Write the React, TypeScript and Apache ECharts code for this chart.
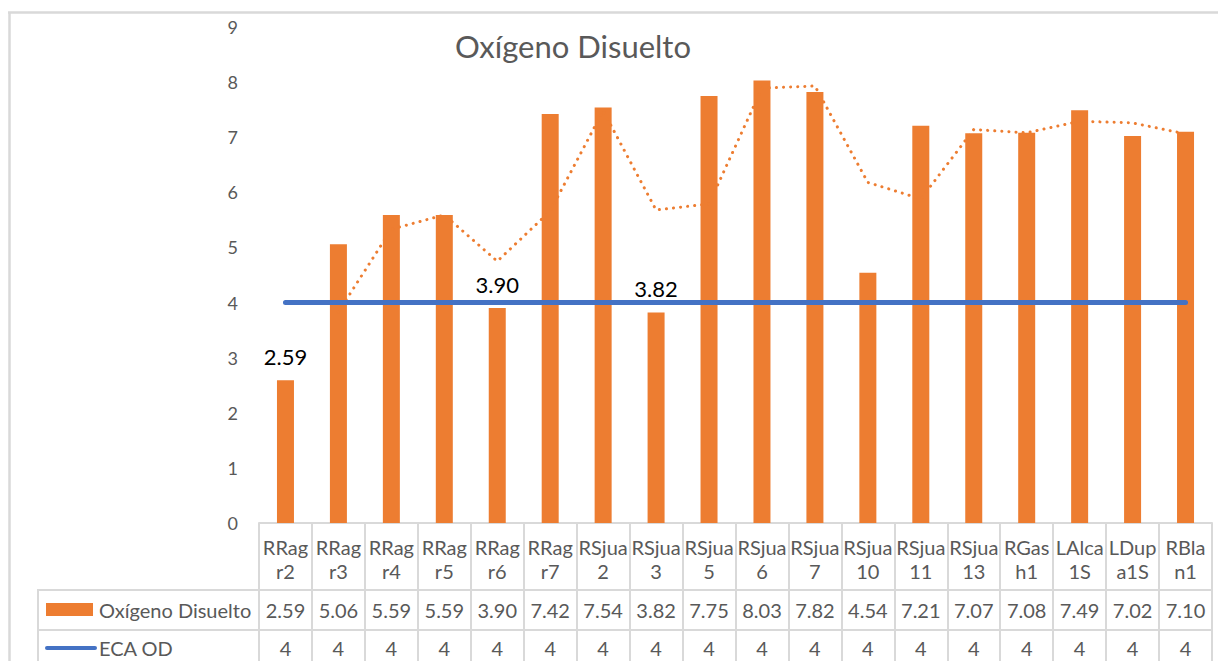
import React, { useEffect, useRef } from "react";
import * as echarts from "echarts";

const categories = [
  "RRagr2", "RRagr3", "RRagr4", "RRagr5", "RRagr6", "RRagr7",
  "RSjua2", "RSjua3", "RSjua5", "RSjua6", "RSjua7", "RSjua10",
  "RSjua11", "RSjua13", "RGash1", "LAlca1S", "LDupa1S", "RBlan1",
];
const categoryLabels = [
  "RRag\nr2", "RRag\nr3", "RRag\nr4", "RRag\nr5", "RRag\nr6", "RRag\nr7",
  "RSjua\n2", "RSjua\n3", "RSjua\n5", "RSjua\n6", "RSjua\n7", "RSjua\n10",
  "RSjua\n11", "RSjua\n13", "RGas\nh1", "LAlca\n1S", "LDup\na1S", "RBla\nn1",
];
const oxygen = [2.59, 5.06, 5.59, 5.59, 3.9, 7.42, 7.54, 3.82, 7.75, 8.03, 7.82, 4.54, 7.21, 7.07, 7.08, 7.49, 7.02, 7.1];
const ecaOD = [4, 4, 4, 4, 4, 4, 4, 4, 4, 4, 4, 4, 4, 4, 4, 4, 4, 4];
// dotted trend line
const trend = [null, 3.83, 5.33, 5.59, 4.75, 5.66, 7.48, 5.68, 5.79, 7.89, 7.93, 6.18, 5.88, 7.14, 7.08, 7.29, 7.26, 7.06];
const yTicks = { min: 0, max: 9, interval: 1 };

const ORANGE = "#ED7D31";
const BLUE = "#4472C4";
const GRID_LINE = "#D9D9D9";
const TEXT = "#595959";
const FONT = "Lato";

export default function App() {
  const ref = useRef<HTMLDivElement>(null);
  useEffect(() => {
    if (!ref.current) return;
    const chart = echarts.init(ref.current, null, { renderer: "svg" });
    const tableAxis = (offset: number, tickLen: number, margin: number, lh: number, fmt: (v: string, i: number) => string) => ({
      type: "category",
      data: categories,
      position: "bottom",
      offset,
      boundaryGap: true,
      axisLine: { show: true, lineStyle: { color: GRID_LINE, width: 2 } },
      axisTick: { show: true, interval: 0, length: tickLen, lineStyle: { color: GRID_LINE, width: 2 } },
      axisLabel: {
        interval: 0,
        formatter: fmt,
        margin,
        lineHeight: lh,
        fontSize: 20,
        fontFamily: FONT,
        color: TEXT,
      },
      splitLine: { show: false },
    });
    chart.setOption({
      animation: false,
      backgroundColor: "#ffffff",
      title: {
        text: "Oxígeno Disuelto",
        left: 455,
        top: 30,
        padding: 0,
        textStyle: { fontFamily: FONT, fontSize: 31, fontWeight: "normal", color: TEXT },
      },
      grid: { left: 259, right: 6, top: 27, bottom: 138, containLabel: false, outerBoundsMode: "none" },
      xAxis: [
        tableAxis(0, 67, 12, 24, (_v, i) => categoryLabels[i]),
        tableAxis(67, 40, 10, 20, (_v, i) => oxygen[i].toFixed(2)),
        tableAxis(107, 40, 8, 20, (_v, i) => String(ecaOD[i])),
      ],
      yAxis: {
        type: "value",
        min: yTicks.min,
        max: yTicks.max,
        interval: yTicks.interval,
        axisLine: { show: false },
        axisTick: { show: false },
        splitLine: { show: false },
        axisLabel: { fontSize: 18, fontFamily: FONT, color: TEXT, margin: 21 },
      },
      series: [
        {
          name: "Oxígeno Disuelto",
          type: "bar",
          barWidth: 17,
          itemStyle: { color: ORANGE },
          data: oxygen.map((v, i) => ({
            value: v,
            label: {
              show: v < ecaOD[i],
              position: "top",
              distance: 13,
              formatter: (p: any) => Number(p.value).toFixed(2),
              fontSize: 22,
              fontFamily: FONT,
              color: "#000000",
            },
          })),
          z: 2,
        },
        {
          name: "ECA OD",
          type: "line",
          data: ecaOD,
          symbol: "none",
          lineStyle: { color: BLUE, width: 5, cap: "round" },
          z: 4,
        },
        {
          name: "Tendencia",
          type: "line",
          data: trend,
          symbol: "none",
          connectNulls: false,
          lineStyle: { color: ORANGE, width: 3, type: [0.1, 7], cap: "round" },
          z: 3,
        },
      ],
      graphic: [
        { type: "line", shape: { x1: 8, y1: 12.5, x2: 1218, y2: 12.5 }, style: { stroke: GRID_LINE, lineWidth: 2.5 } },
        { type: "line", shape: { x1: 9.5, y1: 12, x2: 9.5, y2: 661 }, style: { stroke: GRID_LINE, lineWidth: 2.5 } },
        { type: "line", shape: { x1: 38, y1: 590, x2: 259, y2: 590 }, style: { stroke: GRID_LINE, lineWidth: 2 } },
        { type: "line", shape: { x1: 38, y1: 630, x2: 259, y2: 630 }, style: { stroke: GRID_LINE, lineWidth: 2 } },
        { type: "line", shape: { x1: 38, y1: 589, x2: 38, y2: 661 }, style: { stroke: GRID_LINE, lineWidth: 2 } },
        { type: "rect", shape: { x: 46, y: 603, width: 47, height: 13 }, style: { fill: ORANGE } },
        { type: "text", x: 99, y: 610, style: { text: "Oxígeno Disuelto", fontSize: 20, fontFamily: FONT, fill: TEXT, verticalAlign: "middle" } },
        { type: "line", shape: { x1: 47, y1: 648, x2: 95, y2: 648 }, style: { stroke: BLUE, lineWidth: 4, lineCap: "round" } },
        { type: "text", x: 99, y: 648, style: { text: "ECA OD", fontSize: 20, fontFamily: FONT, fill: TEXT, verticalAlign: "middle" } },
      ],
    });
    return () => chart.dispose();
  }, []);
  return (
    <div
      ref={ref}
      style={{ position: "absolute", left: 0, top: 0, width: 1218, height: 661, background: "#fff" }}
    />
  );
}
